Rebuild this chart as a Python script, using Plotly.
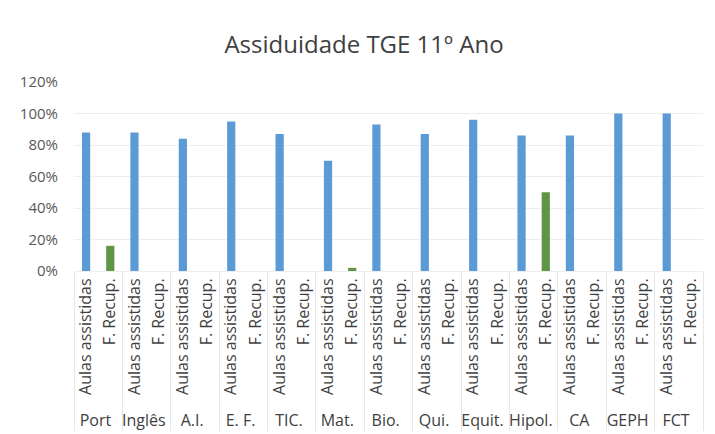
import plotly.graph_objects as go

subjects = ["Port", "Inglês", "A.I.", "E. F.", "TIC.", "Mat.", "Bio.", "Qui.",
            "Equit.", "Hipol.", "CA", "GEPH", "FCT"]
sub_labels = ["Aulas assistidas", "F. Recup."]
aulas_assistidas = [0.88, 0.88, 0.84, 0.95, 0.87, 0.70, 0.93, 0.87, 0.96, 0.86, 0.86, 1.00, 1.00]
f_recup = [0.16, 0.0, 0.0, 0.0, 0.0, 0.02, 0.0, 0.0, 0.0, 0.50, 0.0, 0.0, 0.0]
y_ticks = [0, 0.2, 0.4, 0.6, 0.8, 1.0, 1.2]
y_tick_labels = ["0%", "20%", "40%", "60%", "80%", "100%", "120%"]

BLUE = "#5B9BD5"
GREEN = "#5F9646"

lvl1, lvl2, vals, cols = [], [], [], []
for s, a, r in zip(subjects, aulas_assistidas, f_recup):
    lvl1 += [s, s]
    lvl2 += sub_labels
    vals += [a, r]
    cols += [BLUE, GREEN]

fig = go.Figure(go.Bar(x=[lvl1, lvl2], y=vals, marker_color=cols, width=0.34,
                       marker_line_width=0))

W, H = 707, 426
fig.update_layout(
    width=W, height=H,
    margin=dict(l=66, r=12, t=74, b=163),
    paper_bgcolor="white", plot_bgcolor="white",
    font=dict(family="Open Sans, sans-serif", color="#595959", size=14),
    title=dict(text="Assiduidade TGE 11º Ano", x=356 / W, xref="container",
               y=1 - 37 / H, yref="container", xanchor="center", yanchor="middle",
               font=dict(size=24, color="#404040")),
    showlegend=False,
    bargap=0.66,
)
fig.update_yaxes(range=[0, 1.2], tickvals=y_ticks, ticktext=y_tick_labels,
                 showgrid=True, gridcolor="#ededed", zeroline=False,
                 ticks="", ticklabelstandoff=15, tickfont=dict(size=15, color="#595959"))
fig.update_xaxes(type="multicategory", tickangle=-90, showdividers=True,
                 dividercolor="#e6e6e6", dividerwidth=1, showgrid=False,
                 showline=True, linecolor="#eeeeee", automargin=False,
                 tickfont=dict(size=16, color="#404040"))

fig.write_html("out.html")
